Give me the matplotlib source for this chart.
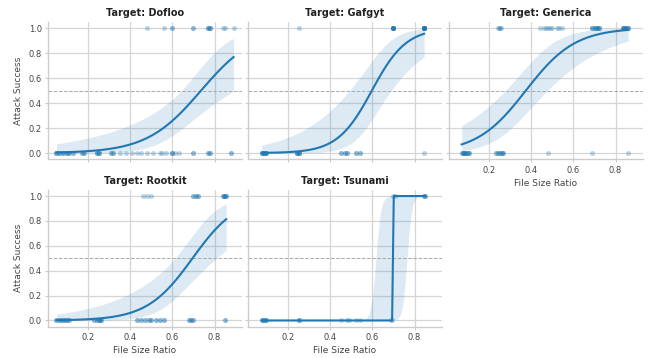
# -*- coding: utf-8 -*-

import numpy as np
import matplotlib.pyplot as plt

# Данные: file size ratio values (and how many runs) of failed / successful attacks
targets = ["Dofloo", "Gafgyt", "Generica", "Rootkit", "Tsunami"]

dofloo_fail_x = [0.05, 0.06, 0.08, 0.10, 0.11, 0.13, 0.17, 0.18, 0.24, 0.25,
                 0.31, 0.32, 0.35, 0.38, 0.41, 0.43, 0.45, 0.48, 0.51, 0.54,
                 0.55, 0.57, 0.60, 0.61, 0.63, 0.70, 0.77, 0.78, 0.88]
dofloo_fail_n = [3, 3, 3, 3, 2, 2, 2, 2, 3, 3, 2, 2, 1, 1, 1, 1, 1, 1, 1, 1,
                 1, 1, 3, 1, 1, 2, 2, 2, 2]
dofloo_hit_x = [0.48, 0.56, 0.60, 0.70, 0.77, 0.78, 0.84, 0.85, 0.89]
dofloo_hit_n = [1, 1, 2, 2, 3, 3, 1, 1, 1]

gafgyt_fail_x = [0.075, 0.08, 0.09, 0.095, 0.24, 0.25,
                 0.45, 0.47, 0.48, 0.52, 0.54, 0.845]
gafgyt_fail_n = [3, 3, 3, 3, 4, 4, 2, 2, 2, 2, 2, 1]
gafgyt_hit_x = [0.25, 0.70, 0.845]
gafgyt_hit_n = [1, 8, 12]

generica_fail_x = [0.07, 0.075, 0.08, 0.085, 0.09, 0.10, 0.105,
                   0.235, 0.24, 0.25, 0.26, 0.265, 0.48, 0.69, 0.86]
generica_fail_n = [2, 2, 2, 2, 2, 2, 2, 2, 2, 2, 2, 2, 1, 1, 1]
generica_hit_x = [0.24, 0.245, 0.25, 0.255, 0.44, 0.46, 0.47, 0.48, 0.49,
                  0.50, 0.52, 0.53, 0.545, 0.69, 0.70, 0.71, 0.72,
                  0.835, 0.84, 0.85, 0.86]
generica_hit_n = [1, 1, 1, 1, 1, 1, 1, 1, 1, 1, 1, 1, 1, 3, 3, 3, 3, 3, 3, 3, 3]

rootkit_fail_x = [0.05, 0.06, 0.07, 0.08, 0.09, 0.10, 0.11, 0.23, 0.24, 0.25,
                  0.255, 0.26, 0.43, 0.45, 0.47, 0.49, 0.50, 0.52, 0.54, 0.56,
                  0.68, 0.69, 0.70, 0.85]
rootkit_fail_n = [2, 2, 2, 2, 2, 2, 2, 2, 2, 2, 2, 2, 2, 2, 2, 2, 2, 2, 2, 2,
                  2, 2, 2, 2]
rootkit_hit_x = [0.46, 0.48, 0.50, 0.70, 0.71, 0.72, 0.84, 0.845, 0.85, 0.855]
rootkit_hit_n = [1, 1, 1, 2, 2, 2, 2, 2, 2, 2]

tsunami_fail_x = [0.075, 0.08, 0.09, 0.095, 0.25, 0.45, 0.48, 0.49,
                  0.52, 0.54, 0.69, 0.695]
tsunami_fail_n = [2, 2, 2, 2, 3, 1, 1, 1, 1, 1, 1, 1]
tsunami_hit_x = [0.70, 0.705, 0.845, 0.85]
tsunami_hit_n = [1, 1, 2, 2]

fail_x = [dofloo_fail_x, gafgyt_fail_x, generica_fail_x, rootkit_fail_x, tsunami_fail_x]
fail_n = [dofloo_fail_n, gafgyt_fail_n, generica_fail_n, rootkit_fail_n, tsunami_fail_n]
hit_x = [dofloo_hit_x, gafgyt_hit_x, generica_hit_x, rootkit_hit_x, tsunami_hit_x]
hit_n = [dofloo_hit_n, gafgyt_hit_n, generica_hit_n, rootkit_hit_n, tsunami_hit_n]


def sigm(z):
    return 1 / (1 + np.exp(-np.clip(z, -40, 40)))


def logit_fit(x, y, n_iter=30):
    # logistic regression, Newton / IRLS
    X = np.column_stack([np.ones_like(x), x])
    b = np.zeros(2)
    for _ in range(n_iter):
        p = sigm(X @ b)
        w = np.clip(p * (1 - p), 1e-10, None)
        H = X.T @ (X * w[:, None])
        b = b + np.linalg.solve(H, X.T @ (y - p))
    p = sigm(X @ b)
    w = np.clip(p * (1 - p), 1e-10, None)
    return b, np.linalg.inv(X.T @ (X * w[:, None]))


plt.rcParams['font.family'] = 'DejaVu Sans'

fig = plt.figure(figsize=(6.5, 3.58), dpi=100)
W, H = 650, 358
lefts = [48, 248, 449]
rows = [(21.75, 159.3), (189.8, 326.7)]
blue = '#1f77b4'

for i, name in enumerate(targets):
    r, c = divmod(i, 3)
    top, bot = rows[r]
    ax = fig.add_axes([lefts[c] / W, 1 - bot / H, 194 / W, (bot - top) / H])

    xf = np.repeat(fail_x[i], fail_n[i])
    xh = np.repeat(hit_x[i], hit_n[i])
    x = np.concatenate([xf, xh])
    y = np.concatenate([np.zeros(len(xf)), np.ones(len(xh))])

    grid = np.linspace(x.min(), x.max(), 100)
    G = np.column_stack([np.ones_like(grid), grid])
    b, cov = logit_fit(x, y)

    if xf.max() < xh.min():
        # perfectly separated: band from (short) fits without the border runs
        f_in = xf[xf < xf.max() - 0.05]
        h_in = xh[xh > xh.min() + 0.05]
        b_up, _ = logit_fit(np.concatenate([f_in, xh]),
                            np.r_[np.zeros(len(f_in)), np.ones(len(xh))], n_iter=10)
        b_dn, _ = logit_fit(np.concatenate([xf, h_in]),
                            np.r_[np.zeros(len(xf)), np.ones(len(h_in))], n_iter=10)
        lo, hi = sigm(G @ b_dn), sigm(G @ b_up)
        lo, hi = np.minimum(lo, hi), np.maximum(lo, hi)
    else:
        se = np.sqrt(np.einsum('ij,jk,ik->i', G, cov, G))
        lo, hi = sigm(G @ b - 1.96 * se), sigm(G @ b + 1.96 * se)

    ax.fill_between(grid, lo, hi, color=blue, alpha=0.15, linewidth=0)
    ax.scatter(x, y, s=13, color=blue, alpha=0.3, linewidths=0, zorder=3)
    ax.plot(grid, sigm(G @ b), color=blue, lw=1.5, zorder=4)
    ax.axhline(0.5, color='#aaaaaa', lw=0.7, ls='--', zorder=2)

    ax.set_xlim(0.01, 0.93)
    ax.set_ylim(-0.05, 1.05)
    ax.set_xticks([0.2, 0.4, 0.6, 0.8])
    ax.set_yticks([0.0, 0.2, 0.4, 0.6, 0.8, 1.0])
    ax.grid(True, color='#d5d5d5', lw=0.9)
    ax.set_axisbelow(True)
    for s in ['top', 'right']:
        ax.spines[s].set_visible(False)
    for s in ['left', 'bottom']:
        ax.spines[s].set_color('#cccccc')
        ax.spines[s].set_linewidth(1.0)
    ax.tick_params(labelsize=6, colors='#444444', length=2.5,
                   color='#cccccc', pad=2)
    ax.set_title('Target: ' + name, fontsize=7, fontweight='bold',
                 color='#222222', pad=4)

    if c == 0:
        ax.set_ylabel('Attack Success', fontsize=6.5, color='#444444')
    else:
        ax.tick_params(labelleft=False)
    if r == 1 or c == 2:
        ax.set_xlabel('File Size Ratio', fontsize=6.5, color='#444444',
                      labelpad=3)
    else:
        ax.tick_params(labelbottom=False)

fig.savefig('out.png', dpi=100)
